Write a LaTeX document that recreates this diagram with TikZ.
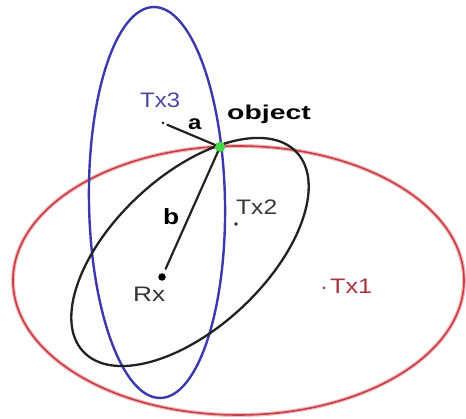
\documentclass[tikz,border=0pt]{standalone}
\usepackage{fontspec}
\usepackage{graphicx}
\setmainfont{Liberation Sans}
\definecolor{ellblue}{RGB}{58,58,172}
\definecolor{ellred}{RGB}{200,62,66}
\definecolor{ellredglow}{RGB}{240,185,190}
\definecolor{ellblack}{RGB}{34,34,34}
\definecolor{txblue}{RGB}{72,72,165}
\definecolor{txred}{RGB}{170,52,62}
\definecolor{txgray}{RGB}{55,55,55}
\definecolor{objgreen}{RGB}{70,215,70}
\tikzset{
  lbl/.style={inner sep=0pt, anchor=base west, font=\fontsize{21}{24}\selectfont},
  dotnode/.style={circle, fill, inner sep=0pt, minimum size=#1},
  path/.style={draw=ellblack, line width=2.2pt, line cap=round}
}
\newcommand{\wide}[2]{\scalebox{#1}[1]{#2}}
\begin{document}
\begin{tikzpicture}[x=1pt,y=1pt]
\useasboundingbox[fill=white] (0,0) rectangle (466,419);
% ellipses
\draw[ellredglow, line width=4pt] (238.5,138.5) ellipse [x radius=225.5, y radius=134.5];
\draw[ellred, line width=1.6pt] (238.5,138.5) ellipse [x radius=225.5, y radius=134.5];
\draw[ellblue, line width=2.4pt] (157,216.5) ellipse [x radius=68, y radius=195.5, rotate=1];
\draw[ellblack, line width=2.3pt] (190,167) ellipse [x radius=146, y radius=76, rotate=43];
% points
\node[dotnode=3pt, fill=ellblack] (tx3) at (163,296) {};
\node[dotnode=3.6pt, fill=ellblack] (tx2) at (236,195) {};
\node[dotnode=3pt, fill=txred] (tx1) at (324,131) {};
\node[dotnode=7.5pt, fill=black] (rx) at (162,142) {};
\node[dotnode=10pt, fill=objgreen] (obj) at (220,272) {};
% paths
\draw[path, shorten <=3pt, shorten >=-3pt] (tx3) -- (obj);
\draw[path, shorten <=-3pt, shorten >=5pt] (obj) -- (rx);
\node[dotnode=10pt, fill=objgreen] at (obj) {};
% labels
\node[lbl, text=txblue] (ltx3) at (140,311) {\wide{1.14}{Tx3}};
\node[lbl, font=\fontsize{20}{24}\selectfont\bfseries] (lobj) at (227,299) {\wide{1.42}{object}};
\node[lbl, font=\fontsize{20}{24}\selectfont\bfseries] (la) at (188,289) {\wide{1.2}{a}};
\node[lbl, font=\fontsize{22}{24}\selectfont\bfseries] (lb) at (163,194) {\wide{1.2}{b}};
\node[lbl, text=txgray] (ltx2) at (236,204) {\wide{1.17}{Tx2}};
\node[lbl, text=txgray] (lrx) at (133,117) {\wide{1.25}{Rx}};
\node[lbl, text=txred] (ltx1) at (330,125) {\wide{1.2}{Tx1}};
\end{tikzpicture}
\end{document}
